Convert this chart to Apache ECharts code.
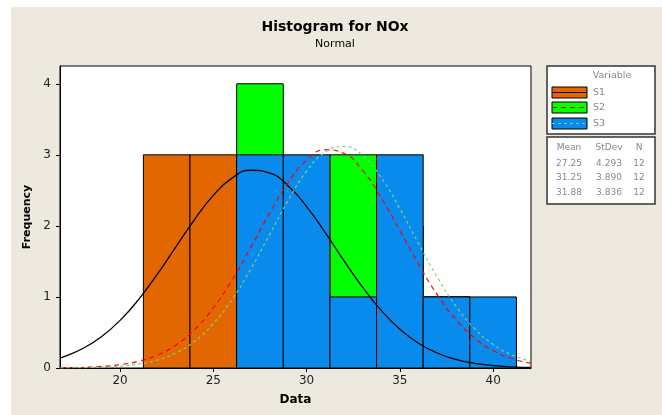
<!DOCTYPE html>
<html>
<head>
<meta charset="utf-8">
<script src="https://cdn.jsdelivr.net/npm/echarts@6/dist/echarts.min.js"></script>
<style>
html,body{margin:0;padding:0;background:#fff;}
#chart{width:662px;height:415px;}
</style>
</head>
<body>
<div id="chart"></div>
<script>
// ---- data ----
const binCenters = [22.5, 25, 27.5, 30, 32.5, 35, 37.5, 40];
const binWidth = 2.5;
const s1Counts = [3, 3, 2, 1, 1, 1, 1, 0];
const s2Counts = [0, 0, 4, 2, 3, 2, 1, 0];
const s3Counts = [0, 0, 3, 3, 1, 3, 1, 1];
const seriesNames = ['S1', 'S2', 'S3'];
const statMean = ['27.25', '31.25', '31.88'];
const statStDev = ['4.293', '3.890', '3.836'];
const statN = ['12', '12', '12'];
const xTicks = [20, 25, 30, 35, 40];
const yTicks = [0, 1, 2, 3, 4];
// fitted normal curves (frequency scale), read at these x positions
const curveX = [16.8, 17, 18, 19, 20, 21, 22, 23, 24, 25, 26, 27, 28, 29, 30, 31, 32, 33, 34, 35, 36, 37, 38, 39, 40, 41, 42];
const s1Curve = [0.144, 0.161, 0.274, 0.440, 0.670, 0.966, 1.320, 1.708, 2.093, 2.430, 2.672, 2.783, 2.746, 2.566, 2.271, 1.904, 1.512, 1.137, 0.810, 0.546, 0.349, 0.211, 0.121, 0.066, 0.034, 0.017, 0.008];
const s2Curve = [0.003, 0.004, 0.009, 0.022, 0.047, 0.096, 0.182, 0.325, 0.542, 0.846, 1.238, 1.694, 2.171, 2.603, 2.922, 3.071, 3.020, 2.781, 2.397, 1.934, 1.460, 1.032, 0.683, 0.423, 0.245, 0.133, 0.068];
const s3Curve = [0.001, 0.002, 0.005, 0.011, 0.026, 0.056, 0.113, 0.214, 0.378, 0.625, 0.964, 1.389, 1.871, 2.354, 2.767, 3.039, 3.118, 2.990, 2.678, 2.241, 1.753, 1.280, 0.874, 0.557, 0.332, 0.185, 0.096];

// ---- styles ----
const barColors = ['#E36700', '#00FF00', '#088BEC'];
const FONT = 'DejaVu Sans';

function histSeries(name, counts, color, z) {
  return {
    type: 'custom',
    name: name,
    z: z,
    data: binCenters.map((c, i) => [c - binWidth / 2, c + binWidth / 2, counts[i]]).filter(d => d[2] > 0),
    encode: { x: [0, 1], y: 2 },
    renderItem: function (params, api) {
      const p0 = api.coord([api.value(0), api.value(2)]);
      const p1 = api.coord([api.value(1), 0]);
      return {
        type: 'rect',
        shape: { x: p0[0], y: p0[1], width: p1[0] - p0[0], height: p1[1] - p0[1] },
        style: { fill: color, stroke: '#000', lineWidth: 1 }
      };
    }
  };
}
function curveSeries(name, vals, color, dash, width, z) {
  return {
    type: 'line', name: name, z: z, smooth: true, symbol: 'none',
    data: curveX.map((x, i) => [x, vals[i]]),
    lineStyle: { color: color, width: width, type: dash },
    clip: true
  };
}

const legendGraphics = [];
legendGraphics.push({ type: 'rect', z: -100, silent: true, shape: { x: 11, y: 7, width: 651, height: 408 }, style: { fill: '#EDE9DF' } });
legendGraphics.push({ type: 'rect', shape: { x: 547, y: 66, width: 108, height: 68 }, style: { fill: '#fff', stroke: '#333', lineWidth: 1.5 } });
legendGraphics.push({ type: 'text', style: { x: 612, y: 76, text: 'Variable', fill: '#888', font: '9.5px "' + FONT + '"', align: 'center', verticalAlign: 'middle' } });
const swY = [87, 102, 118];
const lineColors = ['#000', '#FF0000', '#7FD07F'];
const lineDash = [null, [5, 4], [3, 3]];
for (let i = 0; i < 3; i++) {
  legendGraphics.push({ type: 'rect', shape: { x: 552, y: swY[i], width: 35, height: 11 }, style: { fill: barColors[i], stroke: '#000', lineWidth: 1 } });
  legendGraphics.push({ type: 'line', shape: { x1: 552, y1: swY[i] + 5.5, x2: 587, y2: swY[i] + 5.5 }, style: { stroke: lineColors[i], lineWidth: 1.2, lineDash: lineDash[i] } });
  legendGraphics.push({ type: 'text', style: { x: 593, y: swY[i] + 5.5, text: seriesNames[i], fill: '#888', font: '9.5px "' + FONT + '"', align: 'left', verticalAlign: 'middle' } });
}
legendGraphics.push({ type: 'rect', shape: { x: 547, y: 137, width: 108, height: 67 }, style: { fill: '#fff', stroke: '#333', lineWidth: 1.5 } });
const colX = [569, 609, 639];
const hdr = ['Mean', 'StDev', 'N'];
for (let c = 0; c < 3; c++) {
  legendGraphics.push({ type: 'text', style: { x: colX[c], y: 148, text: hdr[c], fill: '#888', font: '9px "' + FONT + '"', align: 'center', verticalAlign: 'middle' } });
}
const rowY = [164, 178, 193];
for (let r = 0; r < 3; r++) {
  const vals = [statMean[r], statStDev[r], statN[r]];
  for (let c = 0; c < 3; c++) {
    legendGraphics.push({ type: 'text', style: { x: colX[c], y: rowY[r], text: vals[c], fill: '#888', font: '9px "' + FONT + '"', align: 'center', verticalAlign: 'middle' } });
  }
}

const chart = echarts.init(document.getElementById('chart'), null, { renderer: 'canvas' });
chart.setOption({
  animation: false,
  backgroundColor: '#fff',
  title: {
    text: 'Histogram for NOx',
    subtext: 'Normal',
    left: 330, top: 15, textAlign: 'center',
    itemGap: 5,
    textStyle: { fontFamily: FONT, fontSize: 14, fontWeight: 'bold', color: '#000' },
    subtextStyle: { fontFamily: FONT, fontSize: 11, color: '#000' }
  },
  grid: { left: 60, right: 131, top: 66, bottom: 47, show: true, backgroundColor: '#fff', borderColor: '#000', borderWidth: 1 },
  xAxis: {
    type: 'value', min: 16.78, max: 42.03,
    name: 'Data', nameLocation: 'middle', nameGap: 26,
    nameTextStyle: { fontFamily: FONT, fontSize: 12, fontWeight: 'bold', color: '#000' },
    axisLine: { onZero: false, lineStyle: { color: '#000', width: 1 } },
    axisTick: { show: true, length: 4, inside: false, customValues: xTicks, lineStyle: { color: '#000' } },
    axisLabel: { customValues: xTicks, margin: 7, fontFamily: FONT, fontSize: 12, color: '#222' },
    splitLine: { show: false }
  },
  yAxis: {
    type: 'value', min: 0, max: 4.25,
    name: 'Frequency', nameLocation: 'middle', nameGap: 27, nameRotate: 90,
    nameTextStyle: { fontFamily: FONT, fontSize: 11, fontWeight: 'bold', color: '#000' },
    axisLine: { show: true, lineStyle: { color: '#000', width: 1 } },
    axisTick: { show: true, length: 4, inside: false, customValues: yTicks, lineStyle: { color: '#000' } },
    axisLabel: { customValues: yTicks, margin: 9, fontFamily: FONT, fontSize: 12, color: '#222' },
    splitLine: { show: false }
  },
  graphic: legendGraphics,
  series: [
    histSeries('S1', s1Counts, barColors[0], 2),
    histSeries('S2', s2Counts, barColors[1], 3),
    histSeries('S3', s3Counts, barColors[2], 4),
    curveSeries('S1 fit', s1Curve, '#000', 'solid', 1.3, 5),
    curveSeries('S2 fit', s2Curve, '#FF0000', [5, 4], 1.2, 6),
    curveSeries('S3 fit', s3Curve, '#7FD07F', [3, 3], 1.2, 7)
  ]
});
</script>
</body>
</html>
